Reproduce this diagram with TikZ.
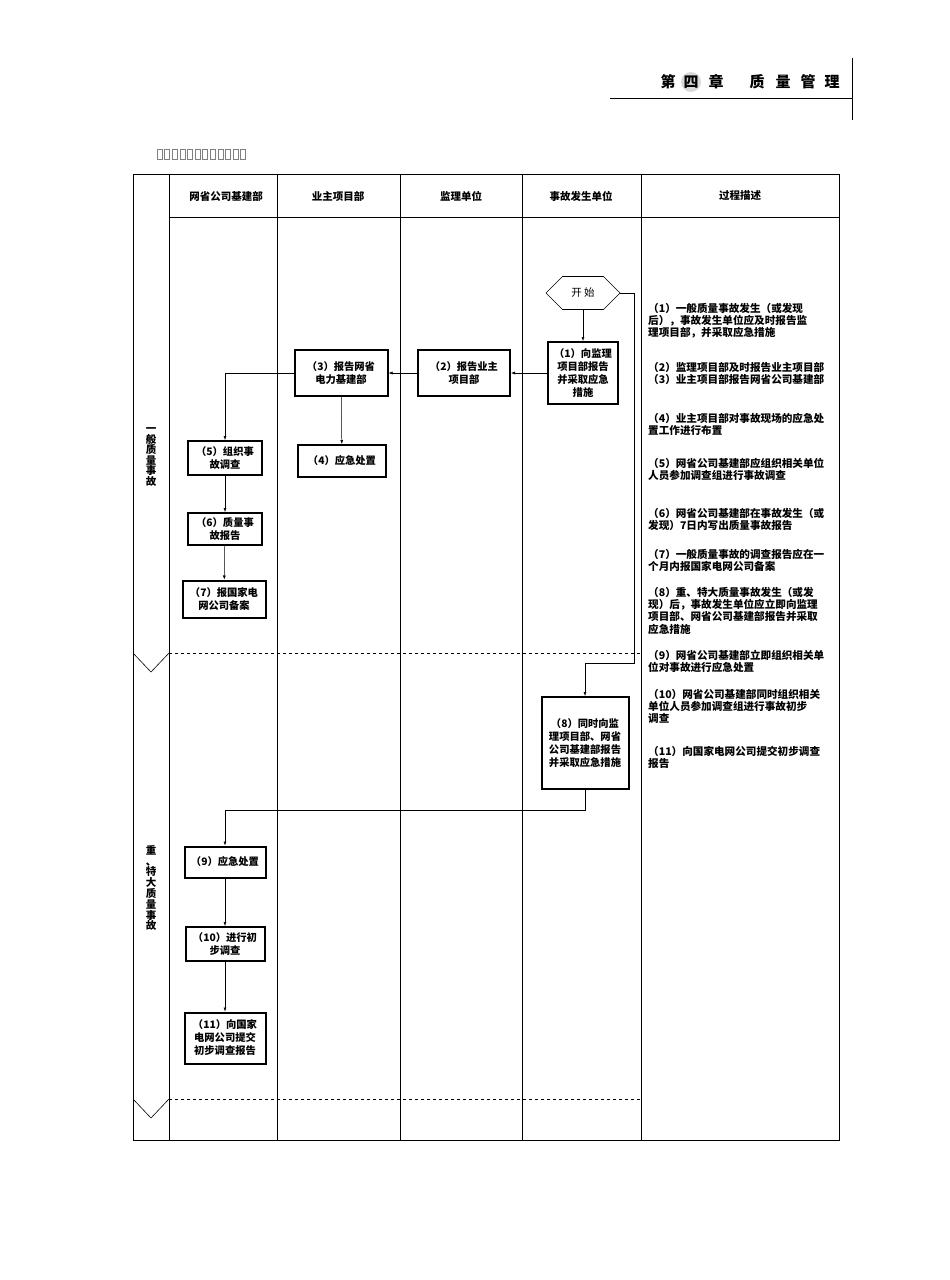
\documentclass[tikz,border=0pt]{standalone}
\usepackage{fontspec}
\setmainfont{Noto Sans CJK SC}
\usetikzlibrary{shapes.misc,shapes.geometric,arrows.meta}
\begin{document}
\begin{tikzpicture}[x=1pt,y=-1pt,
 box/.style={draw,line width=2pt,align=center,font=\fontsize{10.3}{13}\selectfont\bfseries,inner sep=1pt},
 desc/.style={anchor=north west,align=left,font=\fontsize{10.6}{12.3}\selectfont\bfseries,inner sep=0pt,text width=192pt},
 hd/.style={font=\fontsize{10.5}{12}\selectfont\bfseries},
 arr/.style={-{Latex[length=4pt,width=3pt]},line width=0.5pt},
 ln/.style={line width=0.6pt}]
\useasboundingbox (0,0) rectangle (950,1280);
% header
\draw[line width=0.9pt] (610,98) -- (852,98);
\draw[line width=0.9pt] (852,58) -- (852,120);
\fill[gray!30] (691,82) circle (10);
\foreach \c/\x [count=\i] in {第/668,四/691,章/716,质/757,量/783,管/808,理/832}{\node[font=\fontsize{15}{15}\selectfont\bfseries] (t\i) at (\x,82) {\c};}
% caption tofu
\foreach \i in {0,...,11}{\draw[gray,line width=0.4pt] (157+\i*7.6,149) rectangle ++(5,10);}
% table
\draw[line width=0.9pt] (133,174) rectangle (839,1140);
\foreach \x in {169,277,400,522,641}{\draw[ln] (\x,174) -- (\x,1140);}
\draw[ln] (169,217) -- (839,217);
\node[hd] (h1) at (226,196) {网省公司基建部};
\node[hd] (h2) at (338,196) {业主项目部};
\node[hd] (h3) at (461,196) {监理单位};
\node[hd] (h4) at (581,196) {事故发生单位};
\node[hd] (h5) at (740,196) {过程描述};
\draw[dashed,ln] (169,653) -- (641,653);
\draw[dashed,ln] (169,1099) -- (641,1099);
\draw[ln] (133,653) -- (151,672) -- (169,653);
\draw[ln] (133,1099) -- (151,1118) -- (169,1099);
\node[align=center,text width=12pt,font=\fontsize{10.5}{10.5}\selectfont\bfseries] (l1) at (151,457) {一\\般\\质\\量\\事\\故};
\node[align=center,text width=12pt,font=\fontsize{10.5}{10.8}\selectfont\bfseries] (l2) at (151,888) {重\\、\\特\\大\\质\\量\\事\\故};
% nodes
\node[draw,line width=0.6pt,chamfered rectangle,chamfered rectangle xsep=14pt,chamfered rectangle ysep=14pt,minimum width=74pt,minimum height=28pt,inner sep=0pt,font=\fontsize{10.5}{12}\selectfont] (s) at (583,293) {开\ 始};
\node[box,minimum width=70pt,minimum height=62pt] (n1) at (583,373) {（1）向监理\\项目部报告\\并采取应急\\措施};
\node[box,minimum width=92pt,minimum height=46pt] (n2) at (464,373) {（2）报告业主\\项目部};
\node[box,minimum width=93pt,minimum height=46pt] (n3) at (341,373) {（3）报告网省\\电力基建部};
\node[box,minimum width=88pt,minimum height=32pt] (n4) at (342,461) {（4）应急处置};
\node[box,minimum width=74pt,minimum height=34pt] (n5) at (225,458) {（5）组织事\\故调查};
\node[box,minimum width=74pt,minimum height=32pt] (n6) at (225,529) {（6）质量事\\故报告};
\node[box,minimum width=83pt,minimum height=37pt] (n7) at (224,599) {（7）报国家电\\网公司备案};
\node[box,minimum width=87pt,minimum height=92pt] (n8) at (585,743) {（8）同时向监\\理项目部、网省\\公司基建部报告\\并采取应急措施};
\node[box,minimum width=81pt,minimum height=31pt] (n9) at (225,862) {（9）应急处置};
\node[box,minimum width=79pt,minimum height=34pt] (n10) at (225,944) {（10）进行初\\步调查};
\node[box,minimum width=81pt,minimum height=51pt] (n11) at (225,1038) {（11）向国家\\电网公司提交\\初步调查报告};
\coordinate (c1) at (634,293);
\coordinate (c2) at (634,663);
\coordinate (c3) at (585,663);
\coordinate (c4) at (585,810);
\coordinate (c5) at (225,810);
\coordinate (c6) at (225,373);
% connectors
\draw[arr] (s) -- (n1);
\draw[arr] (n1) -- (n2);
\draw[arr] (n2) -- (n3);
\draw[arr] (n3.west) -- (c6) -- (n5);
\draw[arr] (n3) -- (n4);
\draw[arr] (n5) -- (n6);
\draw[arr] (n6) -- (n7);
\draw[arr] (s.east) -- (c1) -- (c2) -- (c3) -- (n8);
\draw[arr] (n8.south) -- (c4) -- (c5) -- (n9);
\draw[arr] (n9) -- (n10);
\draw[arr] (n10) -- (n11);
% descriptions
\node[desc] (d1) at (648,303) {（1）一般质量事故发生（或发现\\后），事故发生单位应及时报告监\\理项目部，并采取应急措施};
\node[desc] (d2) at (648,362) {（2）监理项目部及时报告业主项目部\\（3）业主项目部报告网省公司基建部};
\node[desc] (d4) at (648,413) {（4）业主项目部对事故现场的应急处\\置工作进行布置};
\node[desc] (d5) at (648,458) {（5）网省公司基建部应组织相关单位\\人员参加调查组进行事故调查};
\node[desc] (d6) at (648,508) {（6）网省公司基建部在事故发生（或\\发现）7日内写出质量事故报告};
\node[desc] (d7) at (648,549) {（7）一般质量事故的调查报告应在一\\个月内报国家电网公司备案};
\node[desc] (d8) at (648,587) {（8）重、特大质量事故发生（或发\\现）后，事故发生单位应立即向监理\\项目部、网省公司基建部报告并采取\\应急措施};
\node[desc] (d9) at (648,650) {（9）网省公司基建部立即组织相关单\\位对事故进行应急处置};
\node[desc] (d10) at (648,689) {（10）网省公司基建部同时组织相关\\单位人员参加调查组进行事故初步\\调查};
\node[desc] (d11) at (648,746) {（11）向国家电网公司提交初步调查\\报告};
\end{tikzpicture}
\end{document}
